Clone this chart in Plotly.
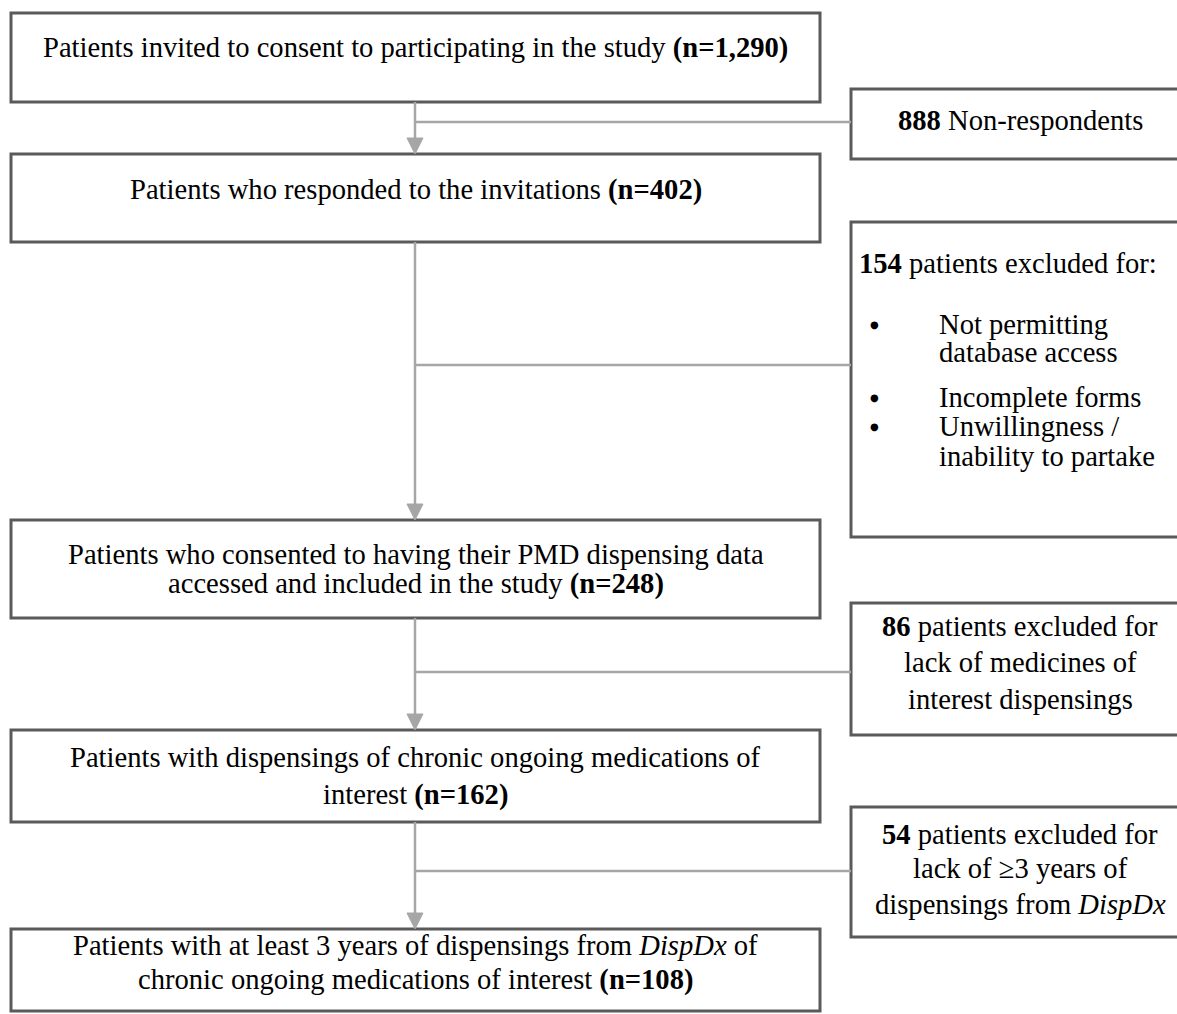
import plotly.graph_objects as go

# ---------------- data ----------------
main_counts = [1290, 402, 248, 162, 108]
main_lines = [
    ["Patients invited to consent to participating in the study {n}"],
    ["Patients who responded to the invitations {n}"],
    ["Patients who consented to having their PMD dispensing data",
     "accessed and included in the study {n}"],
    ["Patients with dispensings of chronic ongoing medications of",
     "interest {n}"],
    ["Patients with at least 3 years of dispensings from <i>DispDx</i> of",
     "chronic ongoing medications of interest {n}"],
]
excluded_counts = [888, 154, 86, 54]
excluded_lines = [
    ["{n} Non-respondents"],
    ["{n} patients excluded for:"],
    ["{n} patients excluded for", "lack of medicines of", "interest dispensings"],
    ["{n} patients excluded for", "lack of \u22653 years of", "dispensings from <i>DispDx</i>"],
]
reasons_154 = ["Not permitting", "database access", "Incomplete forms",
               "Unwillingness /", "inability to partake"]
reason_bullet = [True, False, True, True, False]

# ---------------- layout geometry (pixels of the 1177x1014 page) ----------------
W, H = 1177, 1014
MX0, MX1 = 11, 820
main_y = [(13, 102), (154, 242), (520, 618), (730, 822), (929, 1011)]
main_text_y = [[48], [190], [554, 584], [757, 795], [945, 980]]
SX0, SX1 = 851, 1195
side_y = [(89, 159), (222, 537), (603, 735), (807, 937)]
side_text_y = [[120], [263], [626, 662, 699], [834, 868, 904]]
conn_y = [122, 365, 672, 871]
reason_y = [324, 352, 397, 426, 456]
VX = 415

FONT = "Liberation Serif, Times New Roman, serif"
FS = 28.6
BOX_COL = "#5a5a5a"
LINE_COL = "#a6a6a6"

fig = go.Figure()
shapes = []
ann = []

for (y0, y1) in main_y:
    shapes.append(dict(type="rect", xref="x", yref="y", x0=MX0, x1=MX1, y0=y0, y1=y1,
                       line=dict(color=BOX_COL, width=3), fillcolor="rgba(0,0,0,0)", layer="above"))
for (y0, y1) in side_y:
    shapes.append(dict(type="rect", xref="x", yref="y", x0=SX0, x1=SX1, y0=y0, y1=y1,
                       line=dict(color=BOX_COL, width=3), fillcolor="rgba(0,0,0,0)", layer="above"))

# vertical connectors with arrowheads
AH = 16
for i in range(len(main_y) - 1):
    ytop = main_y[i][1]
    ybot = main_y[i + 1][0]
    shapes.append(dict(type="line", xref="x", yref="y", x0=VX, x1=VX, y0=ytop, y1=ybot - AH + 2,
                       line=dict(color=LINE_COL, width=2.5)))
    shapes.append(dict(type="path", xref="x", yref="y",
                       path=f"M {VX-8},{ybot-AH} L {VX+8},{ybot-AH} L {VX},{ybot} Z",
                       fillcolor=LINE_COL, line=dict(color=LINE_COL, width=1)))
# horizontal connectors
for cy in conn_y:
    shapes.append(dict(type="line", xref="x", yref="y", x0=VX, x1=SX0, y0=cy, y1=cy,
                       line=dict(color=LINE_COL, width=2.5)))

# main box texts
mcx = (MX0 + MX1) / 2
for lines, ys, n in zip(main_lines, main_text_y, main_counts):
    for line, ty in zip(lines, ys):
        txt = line.replace("{n}", f"<b>(n={n:,})</b>")
        ann.append(dict(x=mcx, y=ty, xref="x", yref="y", text=txt, showarrow=False,
                        xanchor="center", yanchor="middle",
                        font=dict(family=FONT, size=FS, color="black")))

# side box texts
scx = 1020
for k, (lines, ys, n) in enumerate(zip(excluded_lines, side_text_y, excluded_counts)):
    for line, ty in zip(lines, ys):
        txt = line.replace("{n}", f"<b>{n}</b>")
        if k == 1:
            ann.append(dict(x=857, y=ty, xref="x", yref="y", text=txt, showarrow=False,
                            xanchor="left", yanchor="middle",
                            font=dict(family=FONT, size=FS, color="black")))
        else:
            ann.append(dict(x=scx, y=ty, xref="x", yref="y", text=txt, showarrow=False,
                            xanchor="center", yanchor="middle",
                            font=dict(family=FONT, size=FS, color="black")))

for r, ry, b in zip(reasons_154, reason_y, reason_bullet):
    if b:
        ann.append(dict(x=874, y=ry, xref="x", yref="y", text="\u25cf", showarrow=False,
                        xanchor="center", yanchor="middle",
                        font=dict(family="DejaVu Sans", size=10, color="black")))
    ann.append(dict(x=937, y=ry, xref="x", yref="y", text=r, showarrow=False,
                    xanchor="left", yanchor="middle",
                    font=dict(family=FONT, size=FS, color="black")))

fig.update_layout(
    width=W, height=H,
    margin=dict(l=0, r=0, t=0, b=0),
    paper_bgcolor="white", plot_bgcolor="white",
    shapes=shapes, annotations=ann,
    xaxis=dict(range=[0, W], visible=False, fixedrange=True),
    yaxis=dict(range=[H, 0], visible=False, fixedrange=True),
    showlegend=False,
)

fig.write_html("out.html", config={"displayModeBar": False},
               post_script="document.body.style.margin='0';document.body.style.padding='0';"
                           "document.body.style.overflow='hidden';")
